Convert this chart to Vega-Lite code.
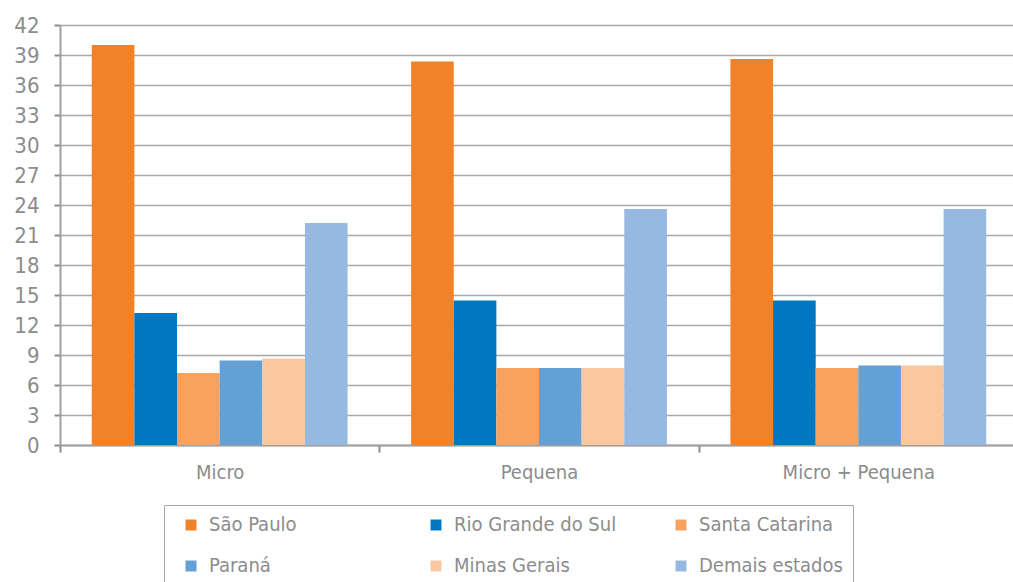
{
  "$schema": "https://vega.github.io/schema/vega-lite/v6.json",
  "autosize": {"type": "none"},
  "padding": {"left": 60, "top": 25, "right": 0, "bottom": 137},
  "width": 958,
  "height": 420,
  "background": "white",
  "data": {"values": [
    {"porte": "Micro", "estado": "São Paulo", "valor": 40.0},
    {"porte": "Micro", "estado": "Rio Grande do Sul", "valor": 13.2},
    {"porte": "Micro", "estado": "Santa Catarina", "valor": 7.2},
    {"porte": "Micro", "estado": "Paraná", "valor": 8.45},
    {"porte": "Micro", "estado": "Minas Gerais", "valor": 8.65},
    {"porte": "Micro", "estado": "Demais estados", "valor": 22.2},
    {"porte": "Pequena", "estado": "São Paulo", "valor": 38.35},
    {"porte": "Pequena", "estado": "Rio Grande do Sul", "valor": 14.45},
    {"porte": "Pequena", "estado": "Santa Catarina", "valor": 7.7},
    {"porte": "Pequena", "estado": "Paraná", "valor": 7.7},
    {"porte": "Pequena", "estado": "Minas Gerais", "valor": 7.7},
    {"porte": "Pequena", "estado": "Demais estados", "valor": 23.6},
    {"porte": "Micro + Pequena", "estado": "São Paulo", "valor": 38.6},
    {"porte": "Micro + Pequena", "estado": "Rio Grande do Sul", "valor": 14.45},
    {"porte": "Micro + Pequena", "estado": "Santa Catarina", "valor": 7.7},
    {"porte": "Micro + Pequena", "estado": "Paraná", "valor": 7.95},
    {"porte": "Micro + Pequena", "estado": "Minas Gerais", "valor": 7.95},
    {"porte": "Micro + Pequena", "estado": "Demais estados", "valor": 23.6}
  ]},
  "mark": {"type": "bar"},
  "encoding": {
    "x": {
      "field": "porte", "type": "nominal",
      "sort": ["Micro", "Pequena", "Micro + Pequena"],
      "scale": {"paddingInner": 0, "paddingOuter": 0},
      "axis": {
        "title": null, "labelAngle": 0, "tickBand": "extent",
        "domainColor": "#a0a0a0", "domainWidth": 2,
        "tickColor": "#8a8a8a", "tickWidth": 2, "tickSize": 7,
        "labelFont": "'Liberation Sans Narrow', 'DejaVu Sans Condensed', sans-serif",
        "labelFontSize": 20, "labelColor": "#8c8c8c", "labelPadding": 10
      }
    },
    "xOffset": {"field": "estado", "type": "nominal",
      "sort": ["São Paulo", "Rio Grande do Sul", "Santa Catarina", "Paraná", "Minas Gerais", "Demais estados"],
      "scale": {"paddingInner": 0, "paddingOuter": 0.745}},
    "y": {
      "field": "valor", "type": "quantitative",
      "scale": {"domain": [0, 42], "nice": false},
      "axis": {
        "title": null, "values": [0, 3, 6, 9, 12, 15, 18, 21, 24, 27, 30, 33, 36, 39, 42],
        "grid": true, "gridColor": "#a8a8a8", "gridWidth": 1.5,
        "domainColor": "#a0a0a0", "domainWidth": 2,
        "tickColor": "#8a8a8a", "tickWidth": 2, "tickSize": 6,
        "labelFont": "'Liberation Sans Narrow', 'DejaVu Sans Condensed', sans-serif",
        "labelFontSize": 22, "labelColor": "#8c8c8c", "labelPadding": 15
      }
    },
    "color": {
      "field": "estado", "type": "nominal",
      "sort": ["São Paulo", "Rio Grande do Sul", "Santa Catarina", "Paraná", "Minas Gerais", "Demais estados"],
      "scale": {
        "domain": ["São Paulo", "Rio Grande do Sul", "Santa Catarina", "Paraná", "Minas Gerais", "Demais estados"],
        "range": ["#F28227", "#0077C0", "#F8A260", "#62A0D6", "#FBC89E", "#95B9E0"]
      },
      "legend": {
        "title": null, "orient": "none", "legendX": 104, "legendY": 480,
        "direction": "horizontal", "columns": 3, "gridAlign": "all",
        "columnPadding": 47, "rowPadding": 21,
        "symbolType": "square", "symbolSize": 120, "symbolStrokeWidth": 0, "symbolOffset": 7,
        "labelFont": "'Liberation Sans Narrow', 'DejaVu Sans Condensed', sans-serif",
        "labelFontSize": 20, "labelColor": "#8c8c8c", "labelLimit": 300, "labelOffset": 8,
        "padding": 10, "strokeColor": "#a6a6a6", "fillColor": "white"
      }
    }
  },
  "config": {"view": {"stroke": null}, "axis": {"gridCap": "butt"}}
}
